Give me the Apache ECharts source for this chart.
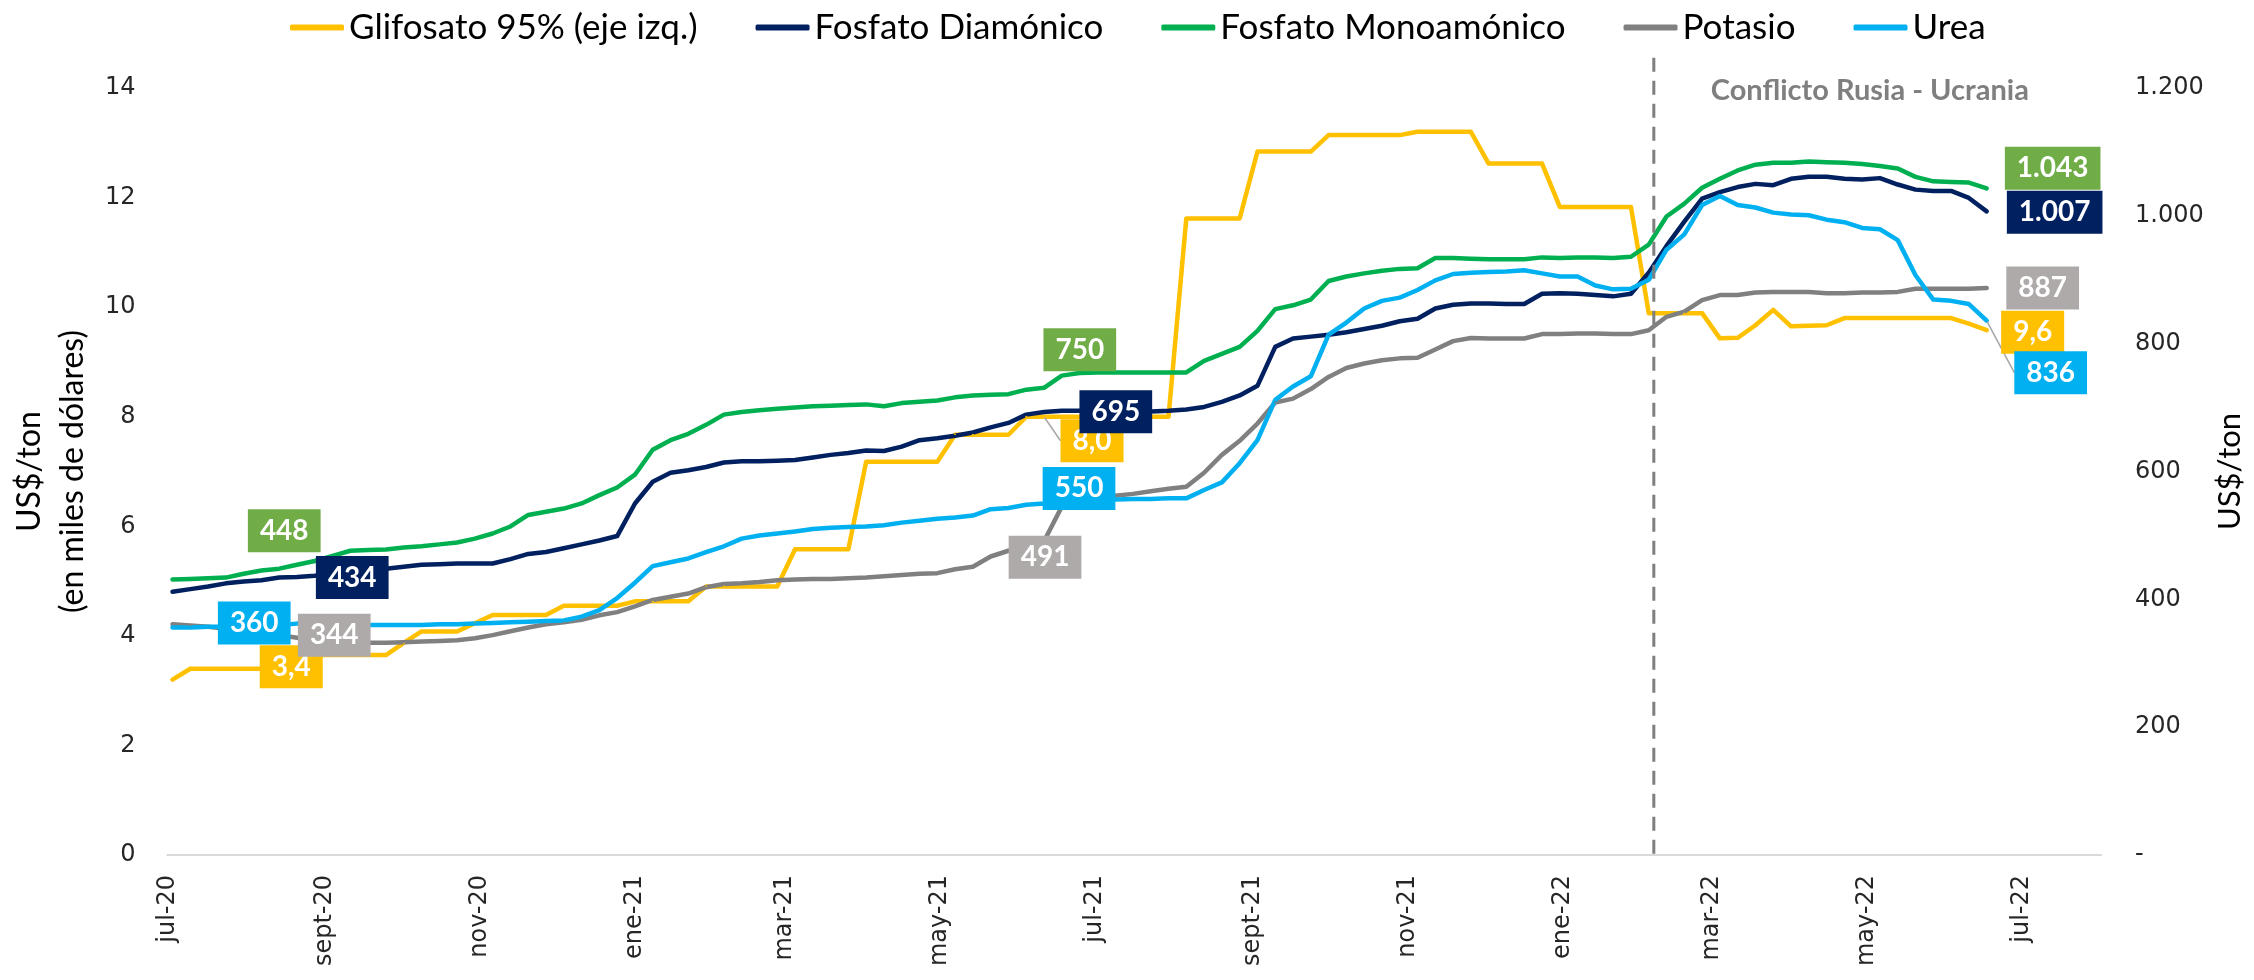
<!DOCTYPE html>
<html>
<head>
<meta charset="utf-8">
<title>Glifosato y fertilizantes</title>
<script src="https://cdn.jsdelivr.net/npm/echarts@6/dist/echarts.min.js"></script>
<style>
html, body { margin: 0; padding: 0; background: #fff; }
#chart { width: 2254px; height: 980px; }
</style>
</head>
<body>
<div id="chart"></div>
<script>
// semanas (primer dato y cantidad de observaciones semanales)
const firstWeek = '2020-07-03'
const weekCount = 103

// eje x: marcas cada dos meses
const tickDates = ['2020-07-01', '2020-09-01', '2020-11-01', '2021-01-01', '2021-03-01', '2021-05-01', '2021-07-01',
    '2021-09-01', '2021-11-01', '2022-01-01', '2022-03-01', '2022-05-01', '2022-07-01']
const tickLabels = ['jul-20', 'sept-20', 'nov-20', 'ene-21', 'mar-21', 'may-21', 'jul-21',
    'sept-21', 'nov-21', 'ene-22', 'mar-22', 'may-22', 'jul-22']
const conflictDate = '2022-02-06'

const seriesNames = ['Glifosato 95% (eje izq.)', 'Fosfato Diamónico', 'Fosfato Monoamónico', 'Potasio', 'Urea']

// miles de US$/ton (eje izquierdo)
const glifosato = [3.2, 3.4, 3.4, 3.4, 3.4, 3.4, 3.4, 3.65, 3.65, 3.65,
    3.65, 3.65, 3.65, 3.87, 4.08, 4.08, 4.08, 4.23, 4.38, 4.38,
    4.38, 4.38, 4.55, 4.55, 4.55, 4.55, 4.63, 4.63, 4.63, 4.63,
    4.9, 4.9, 4.9, 4.9, 4.9, 5.58, 5.58, 5.58, 5.58, 7.18,
    7.18, 7.18, 7.18, 7.18, 7.67, 7.67, 7.67, 7.67, 8.0, 8.0,
    8.0, 8.0, 8.0, 8.0, 8.0, 8.0, 8.0, 11.62, 11.62, 11.62,
    11.62, 12.84, 12.84, 12.84, 12.84, 13.14, 13.14, 13.14, 13.14, 13.14,
    13.2, 13.2, 13.2, 13.2, 12.62, 12.62, 12.62, 12.62, 11.83, 11.83,
    11.83, 11.83, 11.83, 9.89, 9.89, 9.89, 9.89, 9.43, 9.44, 9.67,
    9.95, 9.65, 9.66, 9.67, 9.8, 9.8, 9.8, 9.8, 9.8, 9.8,
    9.8, 9.7, 9.58]
// US$/ton (eje derecho)
const diamonico = [412, 416, 420, 425, 428, 430, 434, 435, 437, 440,
    443, 446, 448, 451, 454, 455, 456, 456, 456, 463,
    471, 474, 480, 486, 492, 499, 550, 584, 598, 602,
    607, 614, 616, 616, 617, 618, 622, 626, 629, 633,
    632, 639, 649, 652, 656, 661, 669, 676, 689, 693,
    695, 695, 696, 696, 694, 694, 695, 697, 701, 709,
    719, 734, 795, 808, 811, 814, 818, 823, 828, 835,
    839, 855, 861, 863, 863, 862, 862, 878, 879, 878,
    876, 874, 878, 911, 953, 991, 1027, 1037, 1045, 1050,
    1048, 1058, 1061, 1061, 1058, 1057, 1059, 1049, 1041, 1039,
    1039, 1028, 1007]
const monoamonico = [431, 432, 433, 434, 440, 445, 448, 454, 460, 468,
    476, 477, 478, 481, 483, 486, 489, 495, 503, 514,
    532, 537, 542, 550, 563, 575, 595, 634, 649, 659,
    673, 689, 693, 696, 698, 700, 702, 703, 704, 705,
    702, 707, 709, 711, 716, 719, 720, 721, 728, 731,
    750, 754, 755, 755, 755, 755, 755, 755, 773, 784,
    795, 820, 854, 860, 869, 898, 905, 910, 914, 917,
    918, 934, 934, 933, 932, 932, 932, 935, 934, 935,
    935, 934, 936, 955, 999, 1019, 1044, 1058, 1071, 1080,
    1083, 1083, 1085, 1084, 1083, 1081, 1078, 1074, 1061, 1054,
    1053, 1052, 1043]
const potasio = [361, 359, 357, 354, 352, 348, 344, 340, 336, 334,
    332, 332, 332, 333, 334, 335, 336, 339, 344, 350,
    356, 361, 364, 368, 375, 380, 389, 399, 404, 409,
    419, 424, 425, 427, 430, 431, 432, 432, 433, 434,
    436, 438, 440, 441, 447, 451, 467, 476, 482, 491,
    545, 558, 561, 562, 565, 569, 573, 576, 598, 626,
    648, 675, 708, 714, 729, 748, 762, 769, 774, 777,
    778, 791, 804, 809, 808, 808, 808, 815, 815, 816,
    816, 815, 815, 821, 842, 850, 868, 876, 876, 880,
    881, 881, 881, 879, 879, 880, 880, 881, 886, 886,
    886, 886, 887]
const urea = [356, 356, 357, 357, 358, 359, 360, 362, 362, 361,
    361, 360, 360, 360, 360, 361, 361, 362, 363, 364,
    365, 366, 367, 373, 383, 402, 426, 452, 458, 464,
    474, 483, 495, 500, 503, 506, 510, 512, 513, 514,
    516, 520, 523, 526, 528, 531, 541, 543, 548, 550,
    553, 554, 555, 556, 557, 557, 558, 558, 571, 583,
    613, 649, 712, 733, 749, 814, 833, 855, 867, 872,
    884, 899, 909, 911, 912, 913, 915, 910, 905, 905,
    891, 885, 886, 900, 947, 971, 1017, 1031, 1017, 1013,
    1005, 1002, 1001, 994, 990, 981, 979, 962, 907, 869,
    867, 862, 836]

// etiquetas: indice del punto -> desplazamiento [dx, dy, linea guia]
const labelOffsets = {
    'Glifosato 95% (eje izq.)': { 6: [12, -2], 49: [48, 24, true], 102: [46, 2] },
    'Fosfato Diamónico': { 6: [73, 0], 50: [54, 1], 102: [68, 1] },
    'Fosfato Monoamónico': { 6: [5, -38], 50: [18, -26], 102: [66, -20] },
    'Potasio': { 6: [55, 0], 49: [1, 16], 102: [56, 0] },
    'Urea': { 6: [-25, -2], 49: [35, -15], 102: [64, 52, true] }
}

function toTime(s) {
    let p = s.split('-').map(Number)
    return new Date(p[0], p[1] - 1, p[2]).getTime()
}
let d0 = toTime(firstWeek)
let weeks = []
for (let i = 0; i < weekCount; i++) {
    let d = new Date(d0)
    d.setDate(d.getDate() + 7 * i)
    weeks.push(d.getTime())
}
const tickTimes = tickDates.map(toTime)
const conflictTime = toTime(conflictDate)

function miles(v) {
    return String(v).replace(/\B(?=(\d{3})+(?!\d))/g, '.')
}
function decimal(v) {
    return v.toFixed(1).replace('.', ',')
}

function buildSeries(name, values, color, boxColor, yAxisIndex, fmt) {
    let marks = labelOffsets[name]
    return {
        name: name,
        type: 'line',
        yAxisIndex: yAxisIndex,
        symbol: 'circle',
        symbolSize: 2,
        showSymbol: true,
        showAllSymbol: true,
        lineStyle: { color: color, width: 4.5, cap: 'round', join: 'round' },
        itemStyle: { color: color },
        emphasis: { disabled: true },
        label: {
            show: false,
            position: 'inside',
            fontFamily: 'Lato',
            fontWeight: 'bold',
            fontSize: 28,
            color: '#ffffff',
            backgroundColor: boxColor,
            padding: [8, 12, 7, 12],
            formatter: function (p) { return fmt(p.value[1]) }
        },
        labelLayout: function (p) {
            let o = marks[p.dataIndex]
            return o ? { dx: o[0], dy: o[1] } : {}
        },
        data: values.map(function (v, i) {
            let item = { value: [weeks[i], v] }
            if (marks[i]) {
                item.label = { show: true }
                if (marks[i][2]) {
                    item.labelLine = { show: true, lineStyle: { color: '#a6a6a6', width: 1.5 } }
                }
            }
            return item
        })
    }
}

let chart = echarts.init(document.getElementById('chart'))
let axisFont = { fontFamily: 'DejaVu Sans', fontSize: 24, color: '#262626' }
let option = {
    backgroundColor: '#ffffff',
    animation: false,
    textStyle: { fontFamily: 'Lato' },
    legend: {
        top: 5,
        left: 285,
        icon: 'roundRect',
        itemWidth: 54,
        itemHeight: 6,
        itemGap: 58,
        textStyle: { fontFamily: 'Lato', fontSize: 35, color: '#000000' },
        data: seriesNames
    },
    grid: { left: 162, right: 153, top: 88, bottom: 125 },
    xAxis: {
        type: 'value',
        min: toTime('2020-07-01'),
        max: toTime('2022-08-01'),
        axisLine: { show: true, lineStyle: { color: '#d9d9d9', width: 2 } },
        axisTick: { show: false },
        splitLine: { show: false },
        axisLabel: Object.assign({
            customValues: tickTimes,
            rotate: 90,
            margin: 20,
            formatter: function (v) {
                let k = tickTimes.indexOf(v)
                return k >= 0 ? tickLabels[k] : ''
            }
        }, axisFont)
    },
    yAxis: [
        {
            type: 'value',
            min: 0,
            max: 14,
            interval: 2,
            position: 'left',
            name: 'US$/ton\n(en miles de dólares)',
            nameLocation: 'middle',
            nameRotate: 90,
            nameGap: 70,
            nameTextStyle: { fontFamily: 'Lato', fontSize: 32, lineHeight: 43, color: '#000000' },
            axisLine: { show: false },
            axisTick: { show: false },
            splitLine: { show: false },
            axisLabel: Object.assign({ margin: 32 }, axisFont)
        },
        {
            type: 'value',
            min: 0,
            max: 1200,
            interval: 200,
            position: 'right',
            name: 'US$/ton',
            nameLocation: 'middle',
            nameRotate: 90,
            nameGap: 94,
            nameTextStyle: { fontFamily: 'Lato', fontSize: 31, color: '#000000' },
            axisLine: { show: false },
            axisTick: { show: false },
            splitLine: { show: false },
            axisLabel: Object.assign({
                margin: 34,
                formatter: function (v) { return v === 0 ? '-' : miles(v) }
            }, axisFont)
        }
    ],
    series: [
        buildSeries(seriesNames[0], glifosato, '#FFC000', '#FFC000', 0, decimal),
        buildSeries(seriesNames[1], diamonico, '#002060', '#002060', 1, miles),
        buildSeries(seriesNames[2], monoamonico, '#00B050', '#70AD47', 1, miles),
        buildSeries(seriesNames[3], potasio, '#808080', '#AEAAAA', 1, miles),
        buildSeries(seriesNames[4], urea, '#00B0F0', '#00B0F0', 1, miles)
    ]
}
chart.setOption(option)

// linea del conflicto, ubicada con las escalas del grafico
let cx = chart.convertToPixel({ xAxisIndex: 0 }, conflictTime)
let yTop = chart.convertToPixel({ yAxisIndex: 0 }, 14.55)
let yBottom = chart.convertToPixel({ yAxisIndex: 0 }, 0)
let yText = chart.convertToPixel({ yAxisIndex: 0 }, 13.95)
chart.setOption({
    graphic: [
        {
            type: 'line',
            z: 50,
            silent: true,
            shape: { x1: cx, y1: yTop, x2: cx, y2: yBottom },
            style: { stroke: '#7f7f7f', lineWidth: 3, lineDash: [14, 9] }
        },
        {
            type: 'text',
            z: 50,
            silent: true,
            x: cx + 57,
            y: yText,
            style: {
                text: 'Conflicto Rusia - Ucrania',
                fontFamily: 'Lato',
                fontWeight: 'bold',
                fontSize: 29,
                fill: '#7f7f7f',
                verticalAlign: 'middle'
            }
        }
    ]
})
</script>
</body>
</html>
